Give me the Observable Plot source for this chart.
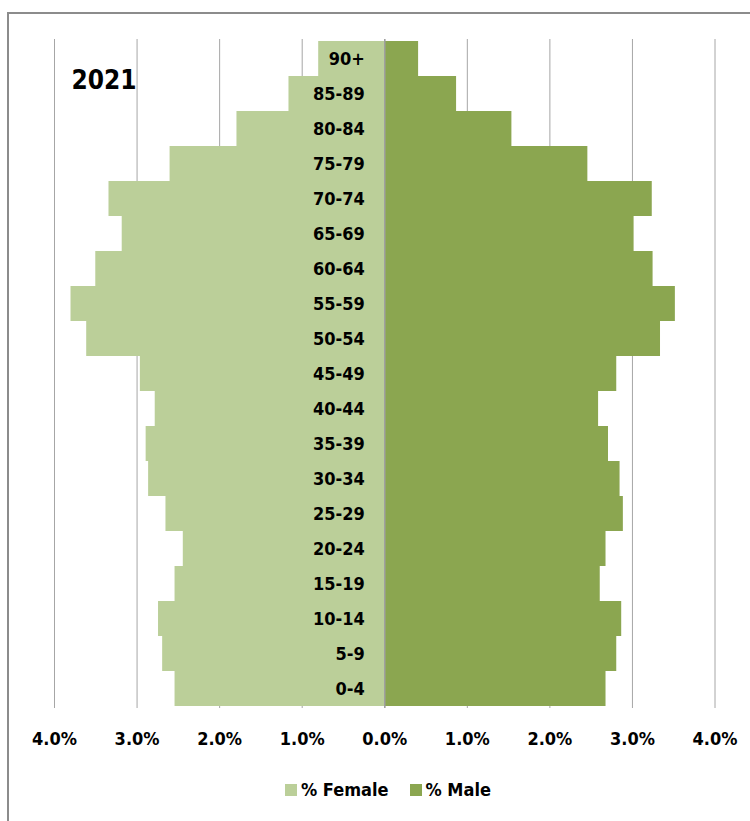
<!DOCTYPE html>
<html><head><meta charset="utf-8">
<script src="https://cdn.jsdelivr.net/npm/d3@7"></script>
<script src="https://cdn.jsdelivr.net/npm/@observablehq/plot@0.6"></script>
<style>
body{margin:0;background:#fff;}
#wrap{position:relative;width:750px;height:821px;overflow:hidden;font-family:"DejaVu Sans Condensed","DejaVu Sans",sans-serif;font-weight:bold;}
#frame{position:absolute;left:7px;top:12px;width:800px;height:900px;border:2px solid #8c8c8c;box-sizing:border-box;}
#chart{position:absolute;left:0;top:0;}
#legend{position:absolute;left:285px;top:779px;display:flex;align-items:center;font-size:18px;color:#000;}
.sw{display:inline-block;width:12px;height:12px;margin-right:4px;}
.item{display:flex;align-items:center;margin-right:21px;}
</style>
</head><body>
<div id="wrap"><div id="frame"></div><div id="chart"></div>
<div id="legend"></div></div>
<script>
const title = "2021";
const ages = ["0-4","5-9","10-14","15-19","20-24","25-29","30-34","35-39","40-44","45-49","50-54","55-59","60-64","65-69","70-74","75-79","80-84","85-89","90+"];
const femalePct = [2.54,2.69,2.74,2.54,2.44,2.65,2.86,2.89,2.78,2.96,3.61,3.80,3.50,3.18,3.34,2.60,1.79,1.16,0.80];
const malePct   = [2.68,2.81,2.87,2.61,2.68,2.89,2.85,2.71,2.59,2.81,3.34,3.52,3.25,3.02,3.24,2.46,1.54,0.87,0.41];
const xTicks = [-4,-3,-2,-1,0,1,2,3,4];
const seriesNames = ["% Female","% Male"];
const colors = ["#bbcf99","#8ba650"];

const rows = ages.map((a,i)=>({age:a, female:femalePct[i], male:malePct[i]}));
const font = '"DejaVu Sans Condensed","DejaVu Sans",sans-serif';

const chart = Plot.plot({
  width:750, height:760,
  marginLeft:54, marginRight:35.5, marginTop:39, marginBottom:52,
  style:{fontFamily:font, fontWeight:"bold", fontSize:"18px", color:"#000", background:"transparent"},
  x:{domain:[-4,4], ticks:xTicks, label:null},
  y:{domain:ages.slice().reverse(), padding:0, axis:null, label:null},
  marks:[
    Plot.gridX(xTicks, {stroke:"#a6a6a6", strokeOpacity:1, strokeWidth:1}),
    Plot.barX(rows, {x1:0, x2:d=>-d.female, y:"age", fill:colors[0]}),
    Plot.barX(rows, {x1:0, x2:"male", y:"age", fill:colors[1]}),
    Plot.ruleX([0], {stroke:"#a0a0a0", strokeWidth:1.5}),
    Plot.text(rows, {x:()=>0, y:"age", text:"age", textAnchor:"end", dx:-20, fontSize:18, fontWeight:"bold", fill:"#000"}),
    Plot.text([title], {frameAnchor:"top-left", dx:17, dy:31, textAnchor:"start", fontSize:26, fontWeight:"bold", fill:"#000"}),
    Plot.axisX(xTicks, {tickFormat:d=>Math.abs(d).toFixed(1)+"%", tickSize:0, tickPadding:24, fontSize:18, fontWeight:"bold", fill:"#000", label:null})
  ]
});
document.getElementById("chart").appendChild(chart);

const lg = document.getElementById("legend");
seriesNames.forEach((n,i)=>{
  const it = document.createElement("span"); it.className="item";
  const sw = document.createElement("span"); sw.className="sw"; sw.style.background=colors[i];
  it.appendChild(sw); it.appendChild(document.createTextNode(n));
  lg.appendChild(it);
});
</script>
</body></html>
